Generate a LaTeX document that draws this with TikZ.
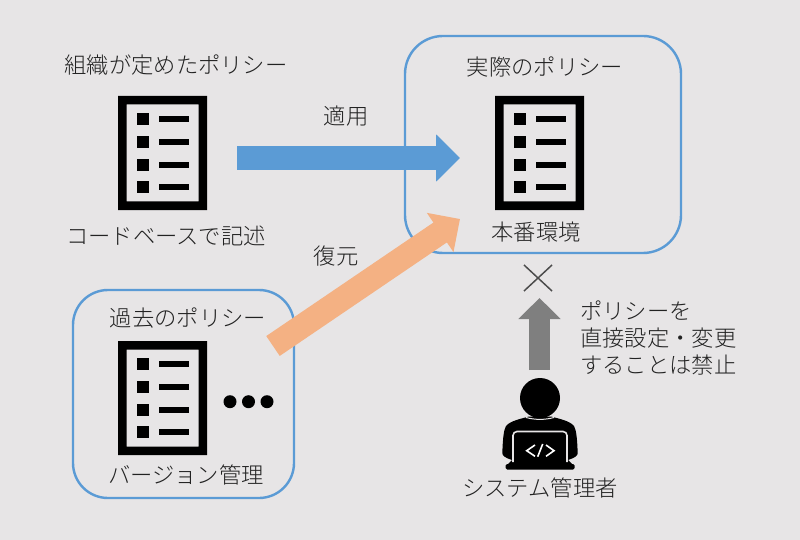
\documentclass[tikz,border=0pt]{standalone}
\usepackage{fontspec}
\setmainfont{Noto Sans CJK JP}[UprightFont=* Light]
\usetikzlibrary{arrows.meta}
\definecolor{bg}{HTML}{E7E5E6}
\definecolor{boxblue}{HTML}{5B9BD5}
\definecolor{arrowor}{HTML}{F4B183}
\definecolor{arrowgr}{HTML}{7F7F7F}
\definecolor{txt}{HTML}{222222}
\tikzset{
  lbl/.style={font=\fontsize{22.3}{27}\selectfont,text=txt,inner sep=0pt},
  scopebox/.style={draw=boxblue,line width=2.4pt,rounded corners=38pt},
  blockblue/.style={draw=boxblue,line width=24pt,-{Triangle[length=24pt,width=46pt]}},
  blockor/.style={draw=arrowor,line width=24pt,-{Triangle[length=24pt,width=46pt]}},
  blockgr/.style={draw=arrowgr,line width=21pt,-{Triangle[length=21pt,width=41pt]}},
  doclist/.pic={
    \fill[black,even odd rule] (0,0) rectangle (89,114) (8.5,8.5) rectangle (80.5,105.5);
    \foreach \yy in {23,46,69,91}{
      \fill[black] (19,\yy-6) rectangle (30.5,\yy+6);
      \fill[black] (41,\yy-3) rectangle (71,\yy+3);
    }
  }
}
\begin{document}
\begin{tikzpicture}[x=1pt,y=-1pt]
\useasboundingbox (0,0) rectangle (800,540);
\fill[bg] (0,0) rectangle (800,540);
% containers
\draw[scopebox] (405,36) rectangle (681,253);
\draw[scopebox,rounded corners=35pt] (73,290) rectangle (294,498);
% documents
\pic at (118,96) {doclist};
\pic at (495,96) {doclist};
\pic at (118,341) {doclist};
% labels
\node[lbl] (t1) at (176,65) {組織が定めたポリシー};
\node[lbl] (t2) at (166,236) {コードベースで記述};
\node[lbl] (t3) at (545,67) {実際のポリシー};
\node[lbl] (t4) at (536,232) {本番環境};
\node[lbl] (t5) at (346,116) {適用};
\node[lbl] (t6) at (336,256) {復元};
\node[lbl] (t7) at (188,318) {過去のポリシー};
\node[lbl] (t8) at (186,475) {バージョン管理};
\node[lbl] (t9) at (540,488) {システム管理者};
\node[lbl,anchor=north west,align=left] (t10) at (580,301) {ポリシーを\\直接設定・変更\\することは禁止};
% arrows
\coordinate (a1) at (237,158);
\coordinate (a2) at (460,158);
\coordinate (b1) at (273,346);
\coordinate (b2) at (460,219);
\coordinate (c1) at (539.5,370);
\coordinate (c2) at (539.5,298);
\draw[blockblue] (a1) -- (a2);
\draw[blockor] (b1) -- (b2);
\draw[blockgr] (c1) -- (c2);
% cross
\coordinate (x1) at (524,265);
\coordinate (x2) at (552,291);
\coordinate (x3) at (552,265);
\coordinate (x4) at (524,291);
\draw[arrowgr!60!black,line width=1.5pt] (x1) -- (x2) (x3) -- (x4);
% dots
\foreach \xx in {230,248.5,267} \fill[black] (\xx,401.7) circle (6.5);
% person
\fill[black] (529,416.5) .. controls (520,419) and (510,421) .. (506,426)
  .. controls (504,430) and (503,435) .. (502.3,453)
  .. controls (502,456) and (506,458) .. (512,460)
  -- (507,465) -- (573,465) -- (568,460)
  .. controls (574,458) and (578,456) .. (577.7,453)
  .. controls (577,435) and (576,430) .. (574,426)
  .. controls (570,421) and (560,419) .. (551,416.5) -- cycle;
\draw[bg,line width=1.6pt,rounded corners=4pt] (513,462) -- (513,431.5) -- (567,431.5) -- (567,462);
\fill[black,rounded corners=1.5pt] (505.5,464) rectangle (574.5,469.5);
\fill[black] (540,398) circle (20);
\draw[bg,line width=1pt] (526,417.5) .. controls (535,420) and (545,420) .. (554,417.5);
\fill[black] (540,398) circle (19);
\draw[white,line width=1.6pt] (535,445) -- (526.7,450.7) -- (535,456.3)
  (542.7,444) -- (537.7,456.7)
  (546,445) -- (554,450.7) -- (546,456.3);
\end{tikzpicture}
\end{document}
